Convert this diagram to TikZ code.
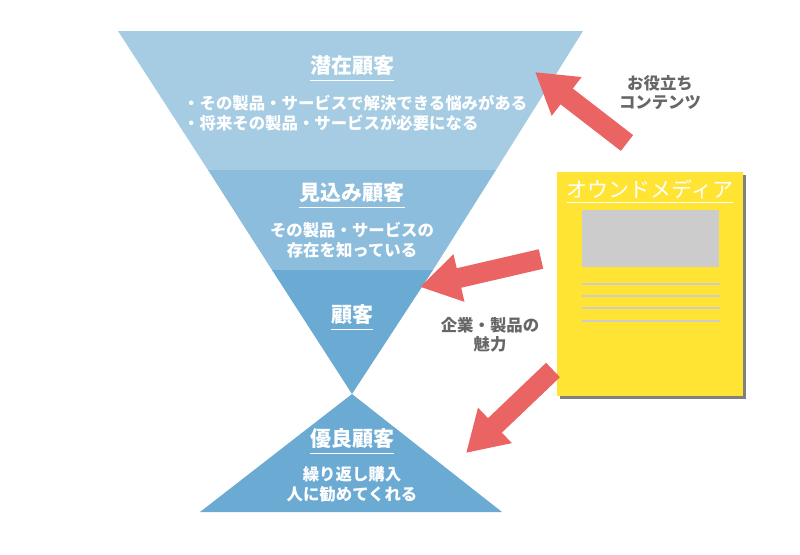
\documentclass[tikz,border=0pt]{standalone}
\usepackage{fontspec}
\setmainfont{Noto Sans CJK JP}
\usetikzlibrary{arrows.meta, positioning, shadows}
\definecolor{toplayer}{HTML}{A5CCE3}
\definecolor{midlayer}{HTML}{8CBDDC}
\definecolor{lowlayer}{HTML}{6AAAD3}
\definecolor{arrowred}{HTML}{EA6464}
\definecolor{mediayellow}{HTML}{FFE433}
\definecolor{notegray}{HTML}{666666}
\definecolor{sheetgray}{HTML}{CCCCCC}
\tikzset{%
   stagetitle/.style={
      font=\fontsize{21}{24}\selectfont\bfseries,
      text=white,
      inner sep=0pt
   },
   stagetext/.style={
      font=\fontsize{16.4}{20}\selectfont\bfseries,
      text=white,
      align=center,
      inner sep=0pt
   },
   uline/.style={
      draw=white,
      line width=1pt
   },
   note/.style={
      font=\fontsize{16.4}{19}\selectfont\bfseries,
      text=notegray,
      align=center,
      inner sep=0pt
   },
   redarrow/.style={
      draw=arrowred,
      line width=20pt,
      -{Triangle[length=40pt, width=46pt]}
   },
   mediabox/.style={
      fill=mediayellow,
      minimum width=186pt,
      minimum height=224pt,
      inner sep=0pt,
      drop shadow={shadow xshift=3pt, shadow yshift=-3pt, fill=gray, opacity=1}
   },
   sheetline/.style={
      draw=sheetgray,
      line width=1.6pt
   },
}

\begin{document}
\begin{tikzpicture}[x=1pt, y=-1pt]
    \useasboundingbox (0,0) rectangle (800,554);
    % funnel
    \fill[toplayer] (118,31) -- (583,31) -- (496,170) -- (208,170) -- cycle;
    \fill[midlayer] (208,170) -- (496,170) -- (433,270) -- (272,270) -- cycle;
    \fill[lowlayer] (272,270) -- (433,270) -- (352,394) -- cycle;
    \fill[lowlayer] (352,394) -- (502,512) -- (200,512) -- cycle;
    % stage texts
    \node[stagetitle] (t1) at (352,66) {潜在顧客};
    \draw[uline] ([yshift=-4pt]t1.south west) -- ([yshift=-4pt]t1.south east);
    \node[stagetext, align=left, anchor=west] (d1) at (183,113)
        {・その製品・サービスで解決できる悩みがある\\・将来その製品・サービスが必要になる};
    \node[stagetitle] (t2) at (352,193) {見込み顧客};
    \draw[uline] ([yshift=-4pt]t2.south west) -- ([yshift=-4pt]t2.south east);
    \node[stagetext] (d2) at (352,240) {その製品・サービスの\\存在を知っている};
    \node[stagetitle] (t3) at (352,315) {顧客};
    \draw[uline] ([yshift=-4pt]t3.south west) -- ([yshift=-4pt]t3.south east);
    \node[stagetitle] (t4) at (352,439) {優良顧客};
    \draw[uline] ([yshift=-4pt]t4.south west) -- ([yshift=-4pt]t4.south east);
    \node[stagetext] (d4) at (352,484) {繰り返し購入\\人に勧めてくれる};
    % owned media sheet
    \node[mediabox] (media) at (650,284) {};
    \node[stagetitle, font=\fontsize{21}{24}\selectfont, below=8pt of media.north] (mt) {オウンドメディア};
    \draw[uline] ([yshift=-3pt]mt.south west) -- ([yshift=-3pt]mt.south east);
    \node[fill=sheetgray, minimum width=137pt, minimum height=57pt, inner sep=0pt,
          below=10pt of mt.south] (pic) {};
    \coordinate (l1) at (582,284);
    \coordinate (l2) at (582,296);
    \coordinate (l3) at (582,308);
    \coordinate (l4) at (582,321);
    \foreach \l in {l1,l2,l3,l4}
        \draw[sheetline] (\l) -- ++(138,0);
    % arrows
    \coordinate (a1s) at (627,143);
    \coordinate (a1e) at (535,72);
    \coordinate (a2s) at (541,259);
    \coordinate (a2e) at (420,287);
    \coordinate (a3s) at (553,370);
    \coordinate (a3e) at (466,453);
    \draw[redarrow] (a1s) -- (a1e);
    \draw[redarrow] (a2s) -- (a2e);
    \draw[redarrow] (a3s) -- (a3e);
    % notes
    \node[note] (n1) at (660,93) {お役立ち\\コンテンツ};
    \node[note] (n2) at (490,335) {企業・製品の\\魅力};
\end{tikzpicture}
\end{document}
